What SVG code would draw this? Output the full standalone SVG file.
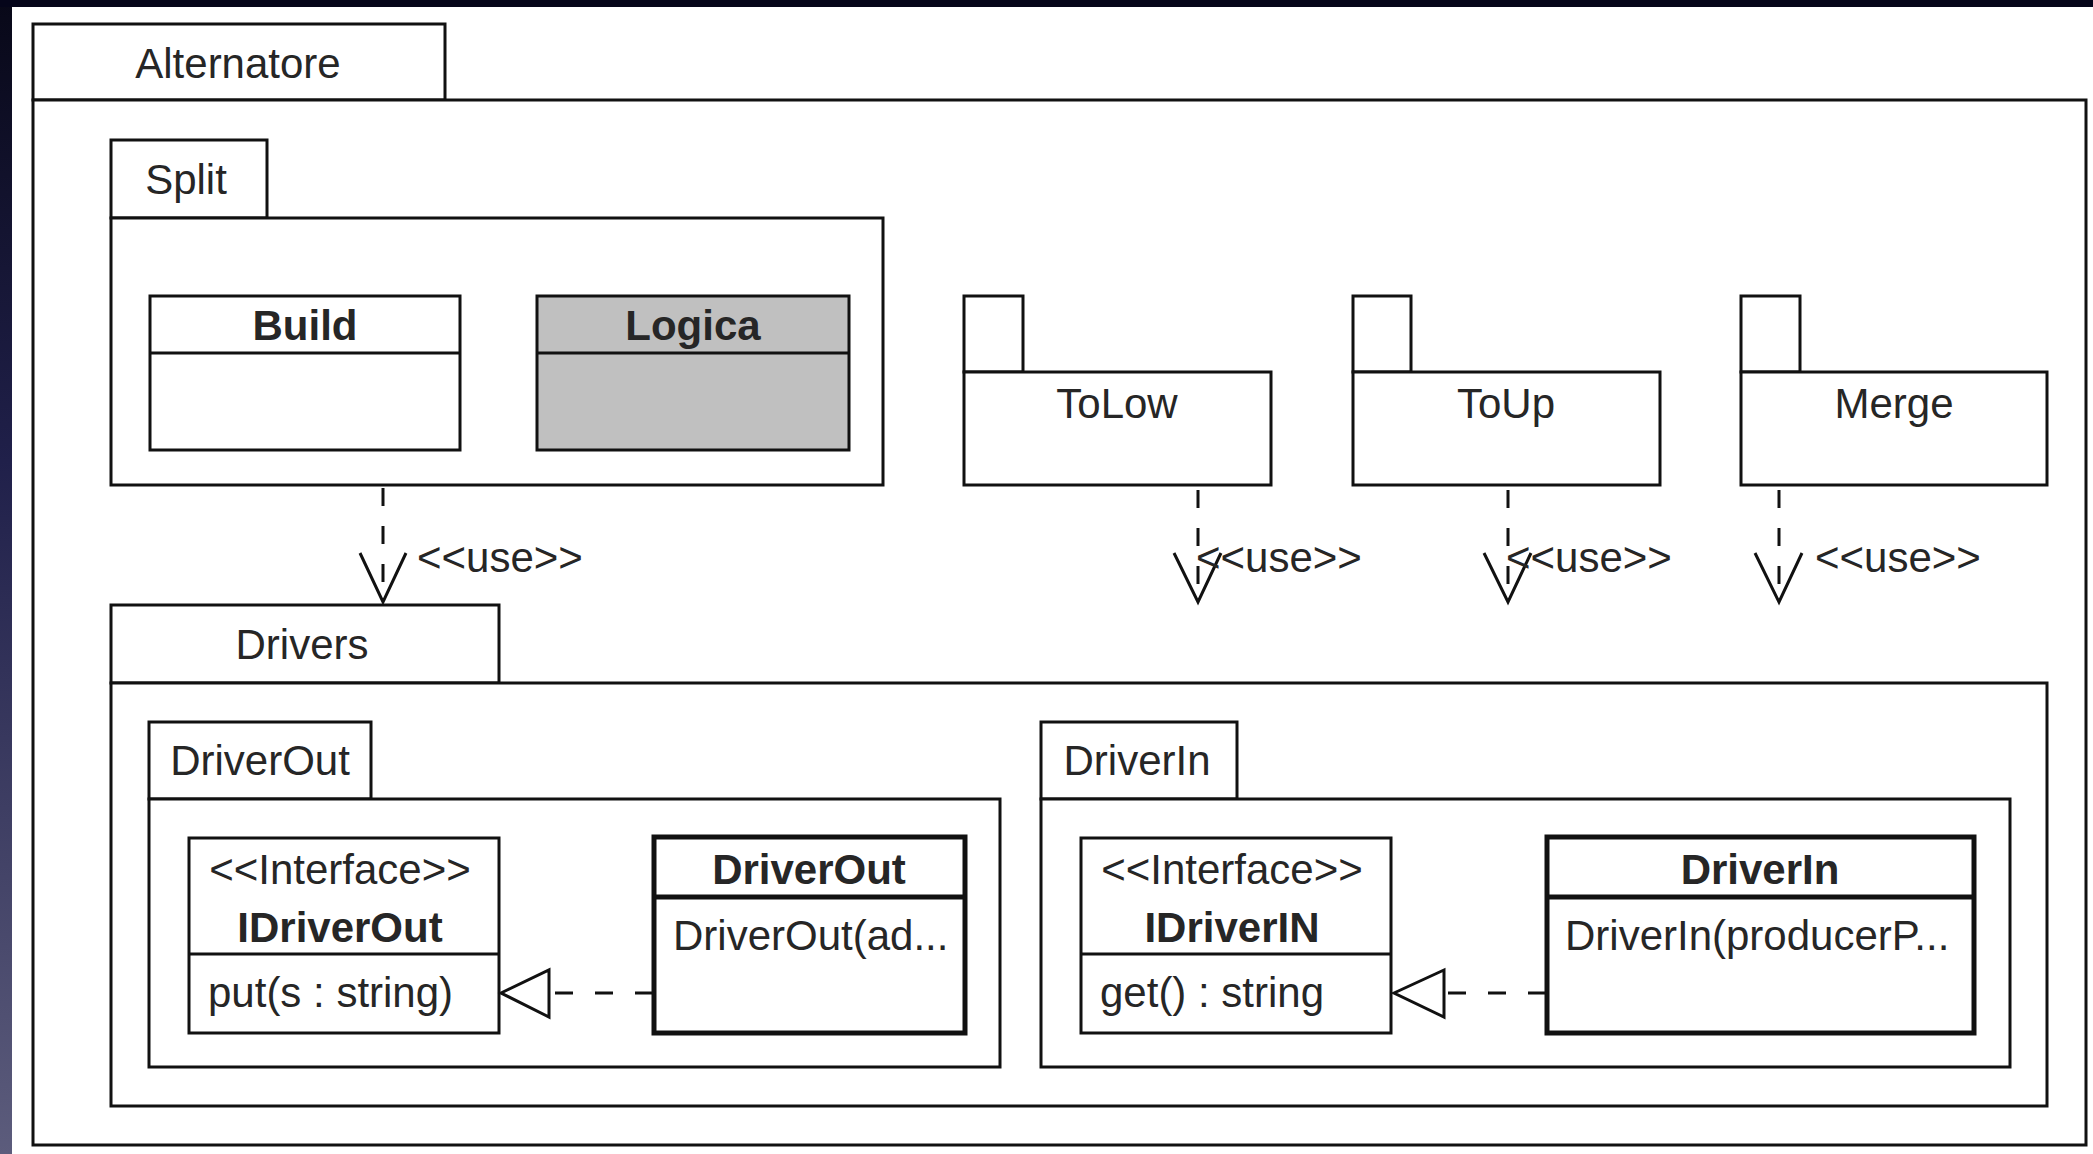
<svg xmlns="http://www.w3.org/2000/svg" width="2093" height="1154" viewBox="0 0 2093 1154">
<defs>
<linearGradient id="bgLeft" x1="0" y1="0" x2="0" y2="1">
<stop offset="0" stop-color="#080818"/>
<stop offset="0.4" stop-color="#20204a"/>
<stop offset="1" stop-color="#5c5c7c"/>
</linearGradient>
<style>
.t{font-family:"Liberation Sans",Arial,sans-serif;font-size:42px;fill:#262626}
.b{font-weight:bold}
.m{text-anchor:middle}
.box{fill:#fff;stroke:#111;stroke-width:3}
.cls{fill:#fff;stroke:#111;stroke-width:3}
.thick{fill:#fff;stroke:#111;stroke-width:5}
.ln{stroke:#111;stroke-width:3;fill:none}
.dash{stroke:#111;stroke-width:3;fill:none;stroke-dasharray:18 20}
.open{stroke:#111;stroke-width:3;fill:none;stroke-linejoin:miter}
.tri{fill:#fff;stroke:#111;stroke-width:3}
</style>
</defs>
<rect x="0" y="0" width="2093" height="1154" fill="url(#bgLeft)"/>
<rect x="0" y="0" width="2093" height="7" fill="#05051a"/>
<rect x="12" y="7" width="2081" height="1147" fill="#fff"/>

<g id="pkg-alternatore">
<rect class="box" x="33" y="24" width="412" height="76"/>
<rect class="box" x="33" y="100" width="2053" height="1045"/>
<text class="t m" x="238" y="78">Alternatore</text>
</g>

<g id="pkg-split">
<rect class="box" x="111" y="140" width="156" height="78"/>
<rect class="box" x="111" y="218" width="772" height="267"/>
<text class="t m" x="186" y="194">Split</text>
</g>

<g id="class-build">
<rect class="cls" x="150" y="296" width="310" height="154"/>
<line class="ln" x1="150" y1="353" x2="460" y2="353"/>
<text class="t b m" x="305" y="340">Build</text>
</g>

<g id="class-logica">
<rect class="cls" x="537" y="296" width="312" height="154" style="fill:#c0c0c0"/>
<line class="ln" x1="537" y1="353" x2="849" y2="353"/>
<text class="t b m" x="693" y="340">Logica</text>
</g>

<g id="pkg-tolow">
<rect class="box" x="964" y="296" width="59" height="76"/>
<rect class="box" x="964" y="372" width="307" height="113"/>
<text class="t m" x="1117" y="418">ToLow</text>
</g>

<g id="pkg-toup">
<rect class="box" x="1353" y="296" width="58" height="76"/>
<rect class="box" x="1353" y="372" width="307" height="113"/>
<text class="t m" x="1506" y="418">ToUp</text>
</g>

<g id="pkg-merge">
<rect class="box" x="1741" y="296" width="59" height="76"/>
<rect class="box" x="1741" y="372" width="306" height="113"/>
<text class="t m" x="1894" y="418">Merge</text>
</g>

<g id="pkg-drivers">
<rect class="box" x="111" y="605" width="388" height="78"/>
<rect class="box" x="111" y="683" width="1936" height="423"/>
<text class="t m" x="302" y="659">Drivers</text>
</g>

<g id="pkg-driverout">
<rect class="box" x="149" y="722" width="222" height="77"/>
<rect class="box" x="149" y="799" width="851" height="268"/>
<text class="t m" x="260" y="775">DriverOut</text>
</g>

<g id="class-idriverout">
<rect class="cls" x="189" y="838" width="310" height="195"/>
<line class="ln" x1="189" y1="954" x2="499" y2="954"/>
<text class="t m" x="340" y="884">&lt;&lt;Interface&gt;&gt;</text>
<text class="t b m" x="340" y="942">IDriverOut</text>
<text class="t" x="208" y="1007">put(s : string)</text>
</g>

<g id="class-driverout">
<rect class="thick" x="654" y="837" width="311" height="196"/>
<line class="ln" style="stroke-width:5" x1="654" y1="897" x2="965" y2="897"/>
<text class="t b m" x="809" y="884">DriverOut</text>
<text class="t" x="673" y="950">DriverOut(ad...</text>
</g>

<g id="pkg-driverin">
<rect class="box" x="1041" y="722" width="196" height="77"/>
<rect class="box" x="1041" y="799" width="969" height="268"/>
<text class="t m" x="1137" y="775">DriverIn</text>
</g>

<g id="class-idriverin">
<rect class="cls" x="1081" y="838" width="310" height="195"/>
<line class="ln" x1="1081" y1="954" x2="1391" y2="954"/>
<text class="t m" x="1232" y="884">&lt;&lt;Interface&gt;&gt;</text>
<text class="t b m" x="1232" y="942">IDriverIN</text>
<text class="t" x="1100" y="1007">get() : string</text>
</g>

<g id="class-driverin">
<rect class="thick" x="1547" y="837" width="427" height="196"/>
<line class="ln" style="stroke-width:5" x1="1547" y1="897" x2="1974" y2="897"/>
<text class="t b m" x="1760" y="884">DriverIn</text>
<text class="t" x="1565" y="950">DriverIn(producerP...</text>
</g>

<g id="connectors">
<line class="dash" x1="383" y1="488" x2="383" y2="600"/>
<polyline class="open" points="360,553 383,602 406,553"/>
<text class="t" x="417" y="572">&lt;&lt;use&gt;&gt;</text>

<line class="dash" x1="1198" y1="490" x2="1198" y2="600"/>
<polyline class="open" points="1174,553 1198,602 1221,553"/>
<text class="t" x="1196" y="572">&lt;&lt;use&gt;&gt;</text>

<line class="dash" x1="1508" y1="490" x2="1508" y2="600"/>
<polyline class="open" points="1484,553 1508,602 1531,553"/>
<text class="t" x="1506" y="572">&lt;&lt;use&gt;&gt;</text>

<line class="dash" x1="1779" y1="490" x2="1779" y2="600"/>
<polyline class="open" points="1755,553 1779,602 1802,553"/>
<text class="t" x="1815" y="572">&lt;&lt;use&gt;&gt;</text>

<line class="ln" style="stroke-dasharray:18 22" x1="653" y1="993" x2="549" y2="993"/>
<polygon class="tri" points="501,993 549,970 549,1017"/>

<line class="ln" style="stroke-dasharray:18 22" x1="1546" y1="993" x2="1444" y2="993"/>
<polygon class="tri" points="1394,993 1444,970 1444,1017"/>
</g>
</svg>
